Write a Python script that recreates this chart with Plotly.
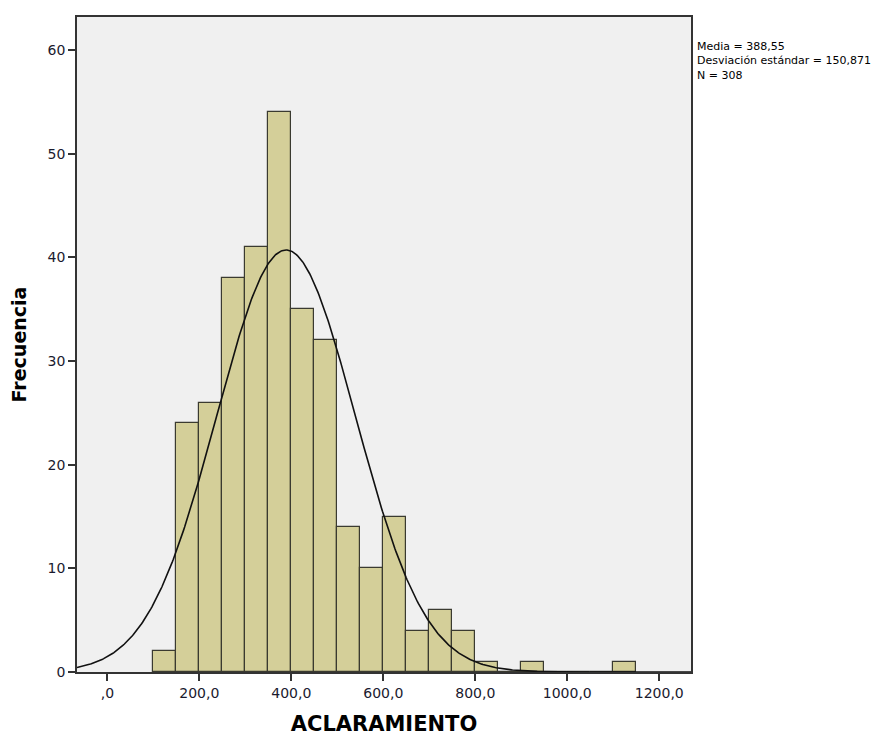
import numpy as np
import plotly.graph_objects as go

bin_starts = [100, 150, 200, 250, 300, 350, 400, 450, 500, 550, 600, 650, 700, 750, 800, 850, 900, 950, 1000, 1050, 1100]
counts = [2, 24, 26, 38, 41, 54, 35, 32, 14, 10, 15, 4, 6, 4, 1, 0, 1, 0, 0, 0, 1]
bin_width = 50
mean_val = 388.55
sd_val = 150.871
n_val = 308

x_tickvals = [0, 200, 400, 600, 800, 1000, 1200]
x_ticktext = [",0", "200,0", "400,0", "600,0", "800,0", "1000,0", "1200,0"]
y_tickvals = [0, 10, 20, 30, 40, 50, 60]

x_range = [-66, 1269]
y_range = [0, 63.2]

centers = [s + bin_width / 2 for s in bin_starts]

xs = np.linspace(x_range[0], x_range[1], 600)
ys = n_val * bin_width / (sd_val * np.sqrt(2 * np.pi)) * np.exp(-0.5 * ((xs - mean_val) / sd_val) ** 2)

fig = go.Figure()
fig.add_trace(go.Bar(
    x=centers, y=counts, width=bin_width,
    marker=dict(color="#D4CF99", line=dict(color="#3a3a30", width=1.2)),
    hoverinfo="x+y", showlegend=False,
))
fig.add_trace(go.Scatter(
    x=xs, y=ys, mode="lines",
    line=dict(color="#111111", width=1.6),
    showlegend=False, hoverinfo="skip",
))

tickfont = dict(family="DejaVu Sans", size=14, color="#1a1a2e")
fig.update_layout(
    width=881, height=736,
    margin=dict(l=69, r=198, t=7, b=72),
    paper_bgcolor="white",
    plot_bgcolor="#F0F0F0",
    bargap=0,
    xaxis=dict(
        range=x_range, tickvals=x_tickvals, ticktext=x_ticktext,
        ticks="outside", ticklen=7, tickwidth=1.5, tickcolor="#333",
        showline=True, linecolor="#333", linewidth=1.5, mirror=True,
        showgrid=False, zeroline=False, tickfont=tickfont,
        title=dict(text="<b>ACLARAMIENTO</b>", font=dict(family="DejaVu Sans", size=21, color="black"), standoff=17),
    ),
    yaxis=dict(
        range=y_range, tickvals=y_tickvals,
        ticks="outside", ticklen=7, tickwidth=1.5, tickcolor="#333",
        showline=True, linecolor="#333", linewidth=1.5, mirror=True,
        showgrid=False, zeroline=False, tickfont=tickfont,
        title=dict(text="<b>Frecuencia</b>", font=dict(family="DejaVu Sans", size=19, color="black"), standoff=16),
    ),
    annotations=[dict(
        xref="paper", yref="paper", x=1.0, y=1.0, xanchor="left", yanchor="top",
        xshift=4, yshift=-21,
        text="Media = 388,55<br>Desviación estándar = 150,871<br>N = 308",
        showarrow=False, align="left",
        font=dict(family="DejaVu Sans", size=11, color="black"),
    )],
)

fig.write_html("out.html")
